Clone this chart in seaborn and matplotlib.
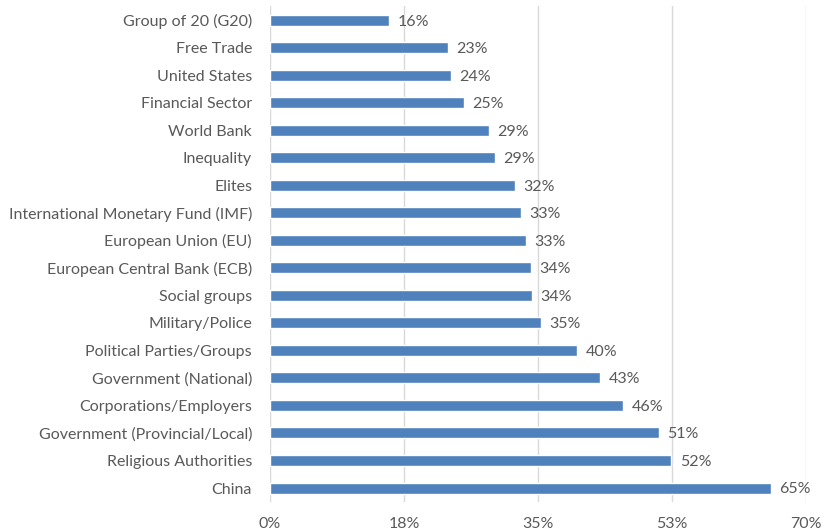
import numpy as np
import pandas as pd
import matplotlib.pyplot as plt
import seaborn as sns

categories = [
    "Group of 20 (G20)", "Free Trade", "United States", "Financial Sector",
    "World Bank", "Inequality", "Elites", "International Monetary Fund (IMF)",
    "European Union (EU)", "European Central Bank (ECB)", "Social groups",
    "Military/Police", "Political Parties/Groups", "Government (National)",
    "Corporations/Employers", "Government (Provincial/Local)",
    "Religious Authorities", "China",
]
values = [15.5, 23.2, 23.6, 25.3, 28.6, 29.4, 32.0, 32.8, 33.4, 34.1, 34.2,
          35.4, 40.1, 43.1, 46.1, 50.8, 52.4, 65.4]
xticks = [0, 17.5, 35, 52.5, 70]
xtick_labels = ["0%", "18%", "35%", "53%", "70%"]

df = pd.DataFrame({"Category": categories, "Value": values})

sns.set_theme(style="white")
plt.rcParams['font.family'] = ['Lato', 'DejaVu Sans']
text_color = "#595959"

fig = plt.figure(figsize=(8.26, 5.31), dpi=100)
ax = fig.add_axes([0.327, 0.055, 0.649, 0.933])

sns.barplot(data=df, x="Value", y="Category", color="#4f81bd", saturation=1,
            width=0.4, ax=ax, zorder=3)

ax.set_xlim(0, 70)
ax.set_xticks(xticks)
ax.set_xticklabels(xtick_labels)
ax.grid(axis="x", color="#d9d9d9", linewidth=1, zorder=0)
ax.grid(axis="y", visible=False)
for s in ax.spines.values():
    s.set_visible(False)
ax.tick_params(axis="both", length=0, labelsize=11.5, colors=text_color)
ax.tick_params(axis="x", pad=11)
ax.tick_params(axis="y", pad=13)
ax.set_xlabel("")
ax.set_ylabel("")

for i, v in enumerate(values):
    ax.text(v + 1.1, i + 0.05, f"{round(v)}%", va="center", ha="left",
            fontsize=11.5, color=text_color)

plt.savefig("out.png", dpi=100)
plt.close()
